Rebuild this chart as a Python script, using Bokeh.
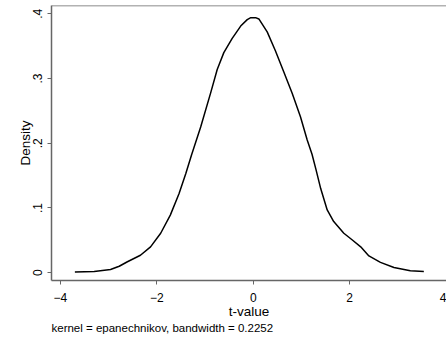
from bokeh.plotting import figure
from bokeh.models import FixedTicker, Span, Title, Range1d
from bokeh.embed import file_html
from bokeh.resources import INLINE

# ---- data ----
t_values = [-3.70, -3.30, -2.96, -2.78, -2.61, -2.34, -2.13, -1.92, -1.72, -1.54,
            -1.40, -1.28, -1.09, -0.886, -0.747, -0.61, -0.436, -0.26, -0.124, -0.05,
            0.05, 0.117, 0.29, 0.46, 0.635, 0.81, 0.98, 1.12, 1.22, 1.30,
            1.40, 1.535, 1.67, 1.88, 2.05, 2.23, 2.40, 2.64, 2.92, 3.26, 3.54]
density = [0.001, 0.002, 0.005, 0.010, 0.017, 0.027, 0.040, 0.061, 0.089, 0.122,
           0.153, 0.182, 0.225, 0.277, 0.314, 0.340, 0.362, 0.381, 0.391, 0.394,
           0.394, 0.392, 0.372, 0.343, 0.310, 0.277, 0.241, 0.205, 0.183, 0.160,
           0.130, 0.097, 0.079, 0.061, 0.051, 0.040, 0.026, 0.016, 0.008, 0.003, 0.002]
x_ticks = [-4, -2, 0, 2, 4]
y_ticks = [0, 0.1, 0.2, 0.3, 0.4]
y_tick_labels = ["0", ".1", ".2", ".3", ".4"]
x_label = "t-value"
y_label = "Density"
note_text = "kernel = epanechnikov, bandwidth = 0.2252"

FONT = "Liberation Sans"
AXIS_COLOR = "#666666"
Y_TOP = 0.4128

p = figure(width=446, height=341, output_backend="svg", toolbar_location=None,
           x_range=Range1d(-4.185, 4.010), y_range=Range1d(-0.0120, Y_TOP),
           min_border_left=51, min_border_right=0, min_border_top=5, min_border_bottom=61)

p.line(t_values, density, line_color="black", line_width=1.5)

p.outline_line_color = None
p.grid.grid_line_color = None
p.background_fill_color = "white"
p.border_fill_color = "white"

# top border of the plot region
p.add_layout(Span(location=Y_TOP, dimension="width", line_color=AXIS_COLOR, line_width=1.5))

for ax in (p.xaxis[0], p.yaxis[0]):
    ax.axis_line_color = AXIS_COLOR
    ax.axis_line_width = 1.5
    ax.major_tick_line_color = AXIS_COLOR
    ax.major_tick_line_width = 1
    ax.major_tick_in = 0
    ax.major_tick_out = 4
    ax.minor_tick_line_color = None
    ax.major_label_text_font = FONT
    ax.major_label_text_font_size = "12px"
    ax.major_label_text_color = "black"
    ax.axis_label_text_font = FONT
    ax.axis_label_text_font_size = "13.5px"
    ax.axis_label_text_font_style = "normal"
    ax.axis_label_text_color = "black"

p.xaxis.ticker = FixedTicker(ticks=x_ticks)
p.xaxis.axis_label = x_label
p.xaxis.major_label_standoff = 8
p.xaxis.axis_label_standoff = -1

p.yaxis.ticker = FixedTicker(ticks=y_ticks)
p.yaxis.major_label_overrides = {t: l for t, l in zip(y_ticks, y_tick_labels)}
p.yaxis.major_label_orientation = "vertical"
p.yaxis.axis_label = y_label
p.yaxis.major_label_standoff = 5
p.yaxis.axis_label_standoff = -2

note = Title(text=note_text, align="left", text_font=FONT, text_font_size="11.5px",
             text_font_style="normal", text_color="black", standoff=-3)
p.add_layout(note, "below")

open("out.html", "w").write(file_html(p, INLINE))
